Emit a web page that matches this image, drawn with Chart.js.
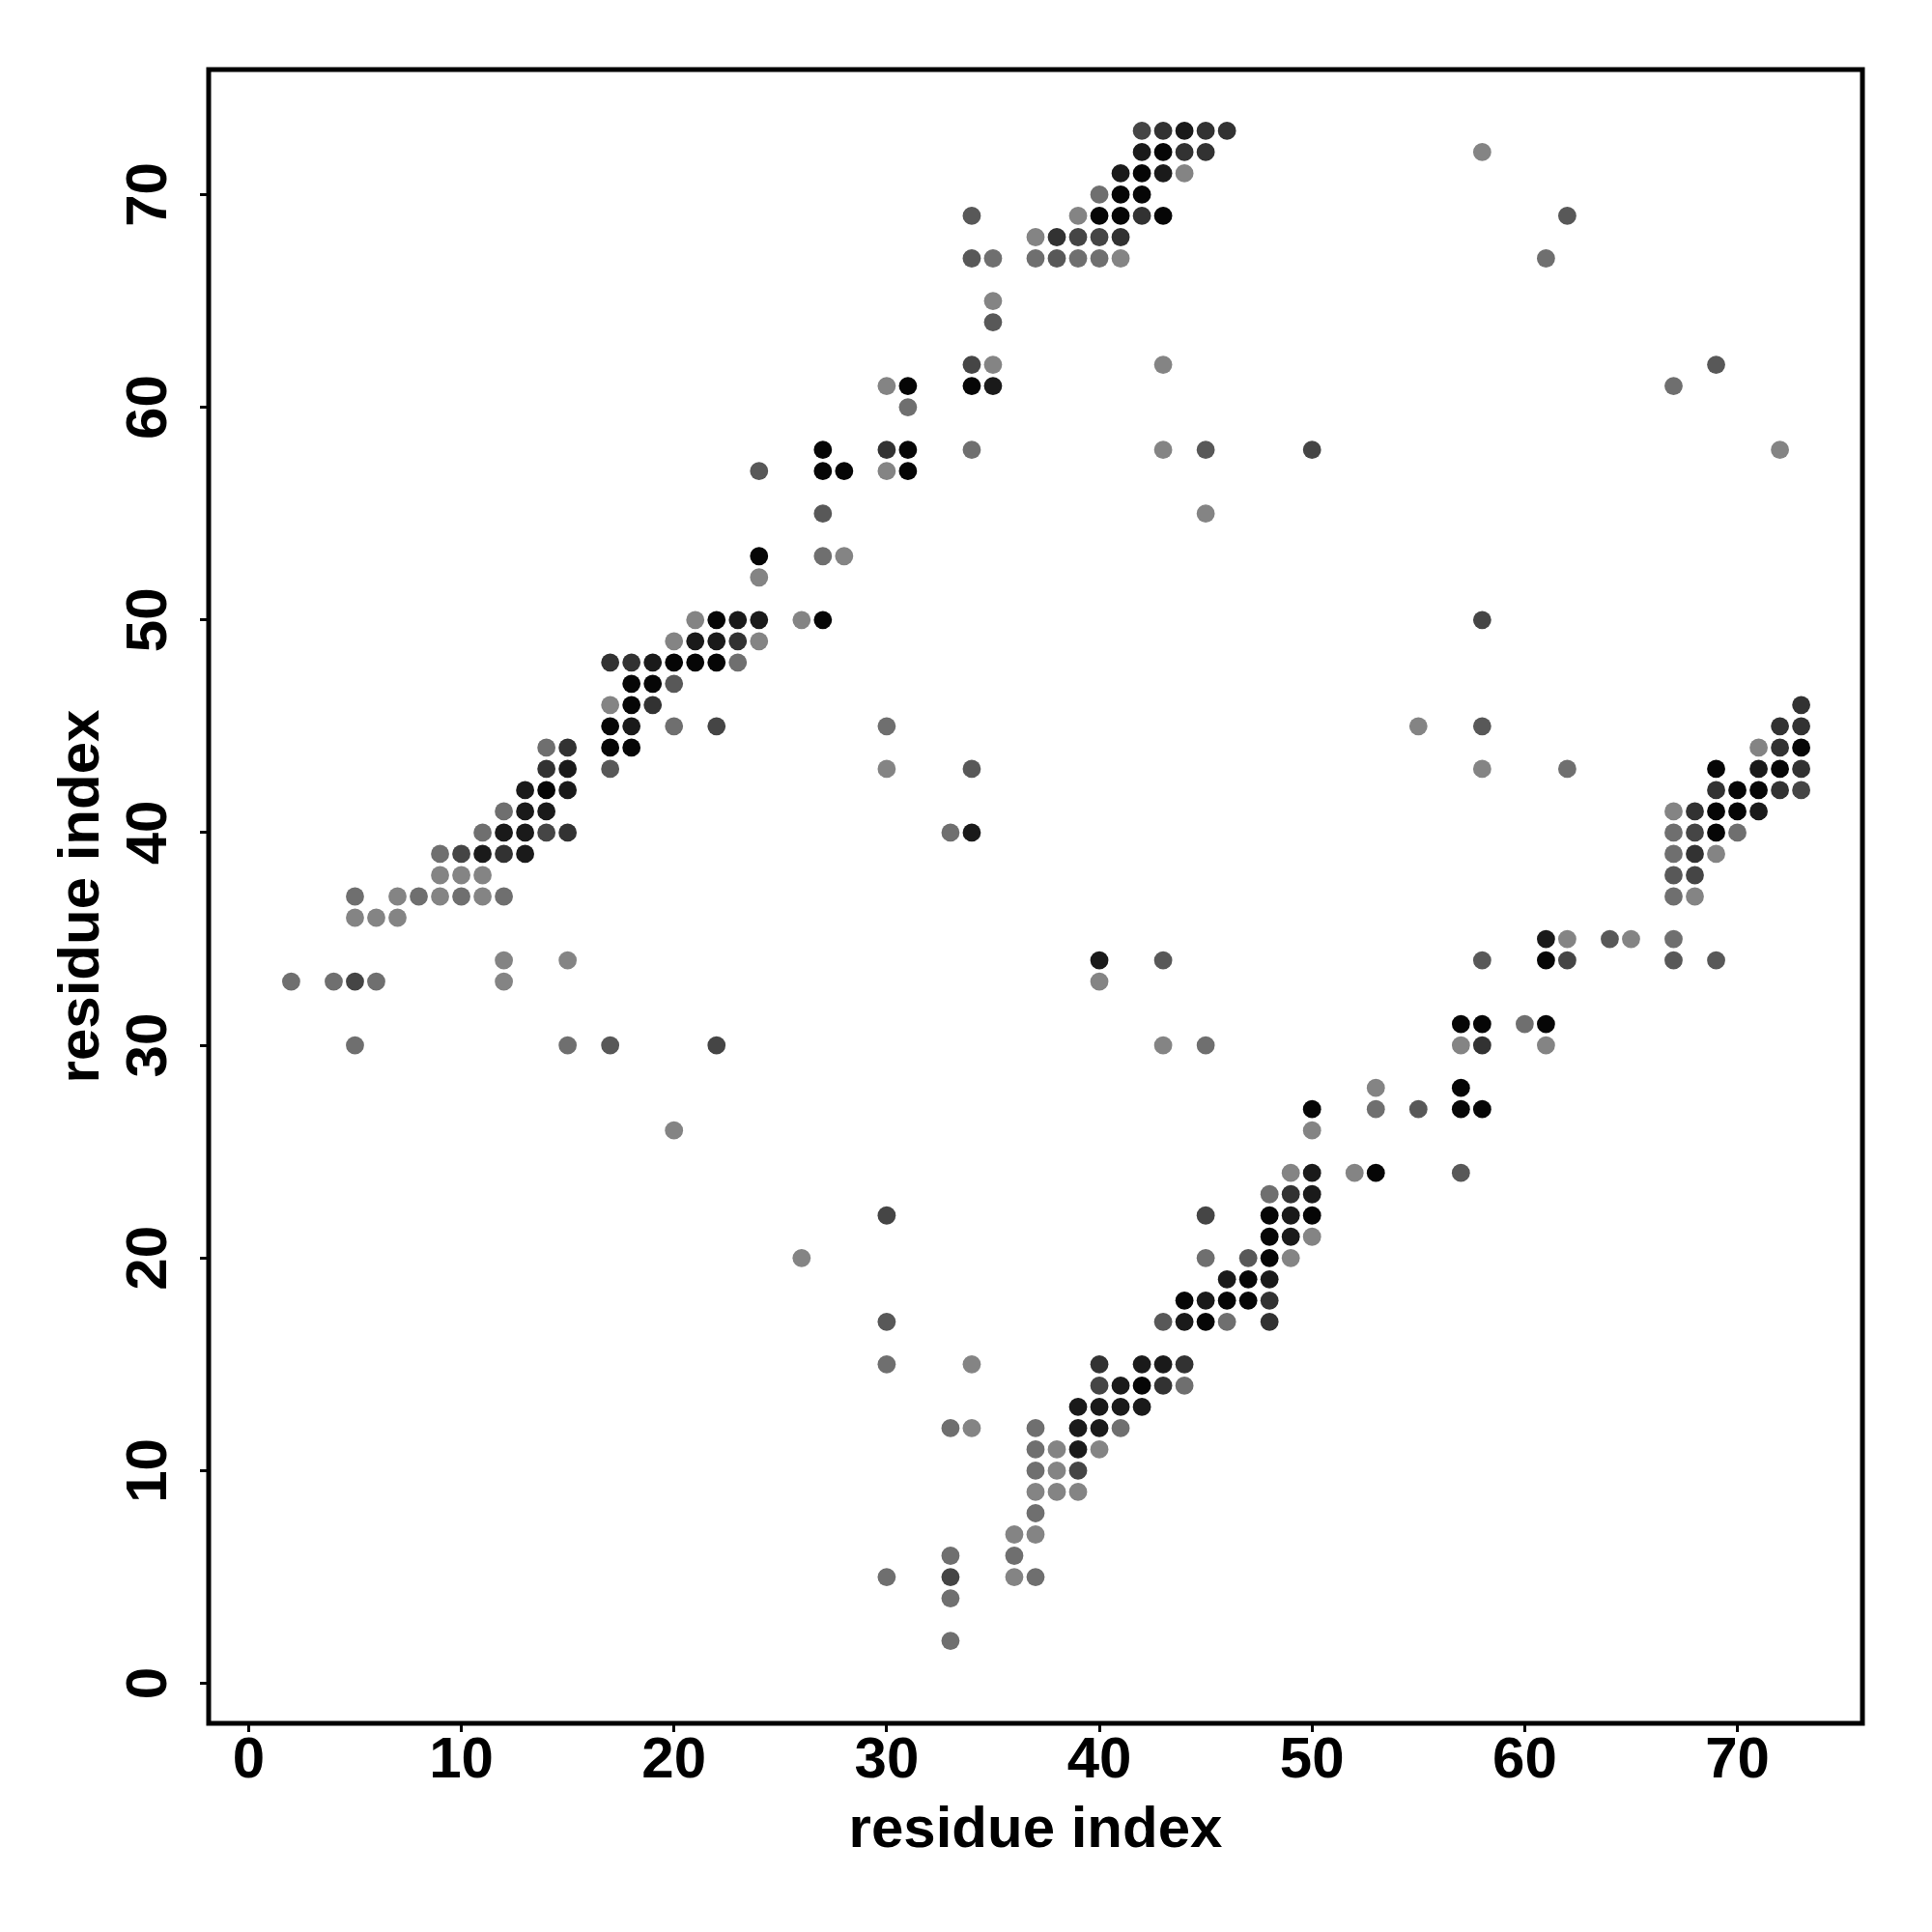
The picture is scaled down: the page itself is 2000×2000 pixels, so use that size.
<!DOCTYPE html>
<html>
<head>
<meta charset="utf-8">
<script src="https://cdn.jsdelivr.net/npm/chart.js@4"></script>
<style>
  html, body { margin: 0; padding: 0; background: #fff; }
  canvas { display: block; }
</style>
</head>
<body>
<canvas id="contactMap" width="2000" height="2000"></canvas>
<script>
// contacts grouped by grey level, [i, j] residue pairs
const shadeBlack = [[43,72],[42,71],[41,70],[42,70],[40,69],[41,69],[43,69],[31,61],[34,61],[27,58],[31,58],[27,57],[28,57],[31,57],[24,53],[22,50],[27,50],[20,48],[21,48],[22,48],[18,47],[19,47],[18,46],[17,45],[17,44],[18,44],[73,44],[69,43],[72,43],[14,42],[70,42],[71,42],[69,41],[70,41],[69,40],[61,34],[57,31],[58,31],[61,31],[57,28],[50,27],[57,27],[58,27],[53,24],[48,22],[50,22],[48,21],[48,20],[47,19],[44,18],[46,18],[47,18],[45,17],[42,14]];
const shadeNearBlack = [[44,73],[42,72],[41,71],[43,71],[35,61],[23,50],[24,50],[21,49],[22,49],[19,48],[18,45],[15,43],[71,43],[13,42],[15,42],[13,41],[14,41],[71,41],[12,40],[13,40],[34,40],[11,39],[13,39],[61,35],[40,34],[50,24],[50,23],[49,22],[49,21],[46,19],[48,19],[45,18],[44,17],[42,15],[43,15],[41,14],[39,13],[40,13],[41,13],[42,13],[39,12],[40,12],[39,11]];
const shadeDark = [[43,73],[45,73],[46,73],[44,72],[45,72],[42,69],[38,68],[41,68],[30,58],[23,49],[17,48],[18,48],[19,46],[73,46],[72,45],[73,45],[15,44],[72,44],[14,43],[73,43],[69,42],[72,42],[68,41],[15,40],[12,39],[68,39],[58,30],[49,23],[48,18],[48,17],[40,15],[44,15],[43,14]];
const shadeMidDark = [[42,73],[39,68],[40,68],[34,62],[50,58],[58,50],[22,45],[73,42],[14,40],[68,40],[10,39],[68,38],[62,34],[5,33],[22,30],[30,22],[45,22],[40,14],[39,10],[33,5]];
const shadeMid = [[34,69],[62,69],[34,67],[38,67],[35,64],[69,62],[45,58],[24,57],[27,55],[20,47],[58,45],[17,43],[34,43],[67,38],[64,35],[43,34],[58,34],[67,34],[69,34],[17,30],[55,27],[57,24],[47,20],[30,17],[43,17]];
const shadeMidLight = [[40,70],[35,67],[37,67],[39,67],[40,67],[61,67],[67,61],[31,60],[34,58],[27,53],[23,48],[20,45],[30,45],[14,44],[62,43],[12,41],[11,40],[33,40],[67,40],[70,40],[9,39],[67,39],[5,37],[8,37],[10,37],[12,37],[67,37],[67,35],[2,33],[4,33],[6,33],[60,31],[5,30],[15,30],[45,30],[53,27],[48,23],[45,20],[46,17],[30,15],[44,14],[33,12],[37,12],[41,12],[37,11],[37,10],[37,8],[33,6],[36,6],[30,5],[37,5],[33,4],[33,2]];
const shadeLight = [[58,72],[44,71],[39,69],[37,68],[41,67],[35,65],[35,62],[43,62],[30,61],[43,58],[72,58],[30,57],[45,55],[28,53],[24,52],[21,50],[26,50],[20,49],[24,49],[17,46],[55,45],[71,44],[30,43],[58,43],[67,41],[69,39],[9,38],[10,38],[11,38],[7,37],[9,37],[11,37],[68,37],[5,36],[6,36],[7,36],[62,35],[65,35],[12,34],[15,34],[12,33],[40,33],[43,30],[57,30],[61,30],[53,28],[20,26],[50,26],[49,24],[52,24],[50,21],[26,20],[49,20],[34,15],[34,12],[38,11],[40,11],[38,10],[37,9],[38,9],[39,9],[36,7],[37,7],[36,5]];

const tickValues = [0, 10, 20, 30, 40, 50, 60, 70];
const axisTitle = 'residue index';

const groups = [
  { pts: shadeBlack, color: '#060606' },
  { pts: shadeNearBlack, color: '#1a1a1a' },
  { pts: shadeDark, color: '#323232' },
  { pts: shadeMidDark, color: '#454545' },
  { pts: shadeMid, color: '#585858' },
  { pts: shadeMidLight, color: '#6f6f6f' },
  { pts: shadeLight, color: '#848484' },
];

const FONT = '"Liberation Sans", Arial, Helvetica, sans-serif';

const boxAndLabels = {
  id: 'boxAndLabels',
  afterDraw(chart) {
    const { ctx, chartArea: a, scales: { x, y } } = chart;
    ctx.save();
    ctx.strokeStyle = '#000';
    ctx.lineWidth = 5;
    ctx.strokeRect(a.left, a.top, a.right - a.left, a.bottom - a.top);

    ctx.fillStyle = '#000';
    ctx.font = 'bold 60px ' + FONT;
    ctx.textAlign = 'center';
    ctx.textBaseline = 'alphabetic';
    tickValues.forEach(v => ctx.fillText(String(v), x.getPixelForValue(v), a.bottom + 56));
    tickValues.forEach(v => {
      ctx.save();
      ctx.translate(a.left - 44, y.getPixelForValue(v));
      ctx.rotate(-Math.PI / 2);
      ctx.fillText(String(v), 0, 0);
      ctx.restore();
    });

    ctx.fillText(axisTitle, (a.left + a.right) / 2, a.bottom + 128);
    ctx.save();
    ctx.translate(a.left - 114, (a.top + a.bottom) / 2);
    ctx.rotate(-Math.PI / 2);
    ctx.fillText(axisTitle, 0, 0);
    ctx.restore();
    ctx.restore();
  }
};

function axis(size) {
  return {
    type: 'linear',
    min: -1.88,
    max: 75.88,
    afterBuildTicks: s => { s.ticks = tickValues.map(v => ({ value: v })); },
    afterFit: s => { if (s.isHorizontal()) s.height = size; else s.width = size; },
    ticks: { display: false },
    border: { display: false },
    grid: {
      drawOnChartArea: false,
      drawTicks: true,
      tickLength: 9,
      tickWidth: 3,
      tickColor: '#000',
      color: '#000',
    },
    title: { display: false },
  };
}

new Chart(document.getElementById('contactMap'), {
  type: 'scatter',
  data: {
    datasets: groups.map(g => ({
      data: g.pts.map(p => ({ x: p[0], y: p[1] })),
      backgroundColor: g.color,
      borderWidth: 0,
      pointRadius: 9.4,
      pointHoverRadius: 9.4,
      pointBorderWidth: 0,
    }))
  },
  options: {
    responsive: false,
    animation: false,
    events: [],
    layout: { padding: { top: 72, right: 72, left: 0, bottom: 0 } },
    plugins: { legend: { display: false }, tooltip: { enabled: false } },
    scales: { x: axis(216), y: axis(216) }
  },
  plugins: [boxAndLabels]
});
</script>
</body>
</html>
